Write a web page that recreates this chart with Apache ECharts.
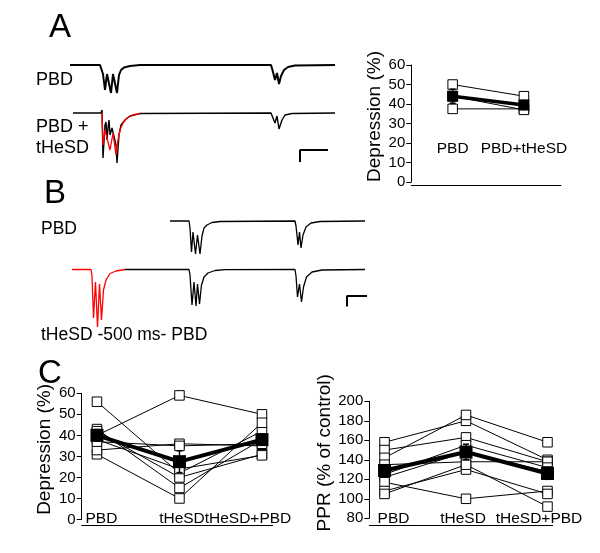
<!DOCTYPE html>
<html><head><meta charset="utf-8">
<script src="https://cdn.jsdelivr.net/npm/echarts@6/dist/echarts.min.js"></script>
<style>html,body{margin:0;padding:0;background:#fff}#c{width:600px;height:553px}</style>
</head><body><div id="c"></div><script>
// ---------- DATA ----------
// Panel A traces: [time (ms), amplitude (a.u., baseline 0)]
const traceA_PBD = [[0,0],[150,0],[160,-0.5],[165,-9],[175,-25],[185,-9],[195,-8],[205,-28],[215,-9],[225,-9],[235,-28],[245,-10],[255,-5],[270,-2.5],[300,-1],[350,0],[1005,0],[1015,-7],[1025,-15],[1035,-8],[1045,-19],[1055,-11],[1070,-5],[1090,-2],[1125,-0.5],[1325,0]];
const traceA_PBDtHeSD = [[15,0],[155,0],[160,3],[165,-45],[175,-12],[180,-9],[185,-27],[190,-15],[195,-7],[200,-22],[210,-15],[220,-17],[230,-32],[235,-50],[245,-22],[255,-12],[275,-7],[300,-3],[350,-0.5],[1005,0],[1015,-5],[1025,-10],[1035,-3],[1045,-16],[1060,-7],[1075,-2],[1110,-0.5],[1325,0]];
const traceA_tHeSD = [[160,0],[165,-32],[175,-17],[185,-15],[200,-37],[215,-20],[230,-42],[240,-27],[250,-17],[265,-10],[285,-5],[315,-2],[350,-0.5]];
const scaleBarA = [[1290,-37],[1150,-37],[1150,-49]];
// Panel B traces
const traceB_PBD = [[490,0],[585,0],[590,-7],[597.5,-31],[605,-11],[617.5,-33],[627.5,-14],[640,-33],[650,-15],[660,-7],[675,-4],[700,-1.5],[740,-0.5],[1115,0],[1120,-5],[1130,-24],[1137.5,-11],[1145,-27],[1155,-14],[1170,-6],[1195,-2],[1240,-0.5],[1465,0]];
const traceB_pairPBD = [[265,0],[585,0],[590,-5.5],[600,-35.5],[610,-12.5],[620,-36.5],[627.5,-14.5],[637.5,-34.5],[647.5,-15.5],[660,-7.5],[680,-3.5],[715,-1],[765,-0.2],[1115,0],[1120,-6.5],[1127.5,-27.5],[1137.5,-14.5],[1147.5,-32.5],[1157.5,-17.5],[1172.5,-7.5],[1200,-2.5],[1250,-0.5],[1465,0]];
const traceB_tHeSD = [[0,0],[95,0],[100,-6.5],[107.5,-48.5],[117.5,-12.5],[127.5,-57.5],[137.5,-14.5],[147.5,-50.5],[157.5,-20.5],[170,-10.5],[190,-4],[220,-1.5],[265,0]];
const scaleBarB = [[1475,-26.5],[1375,-26.5],[1375,-37]];

// Panel A summary (Depression %)
const catA = ['PBD', 'PBD+tHeSD'];
const depA_PBD = [50, 37.5, 44];
const depA_PBDtHeSD = [44, 37.5, 37];
const depA_mean = [44, 39.5];
const depA_sem = [3.6, 2.3];

// Panel C left (Depression %)
const catC = ['PBD', 'tHeSD', 'tHeSD+PBD'];
const depC_PBD = [56, 40, 31, 33, 43, 42, 38, 37];
const depC_tHeSD = [22, 59, 10, 36, 15, 20, 24, 35];
const depC_tHeSD_PBD = [42, 50, 46, 35, 38, 31, 30.5, 36];
const depC_mean = [40, 27.5, 38];
const depC_sem = [2.8, 5.2, 2.6];

// Panel C right (PPR % of control)
const pprC_PBD = [158, 150, 142, 135, 125, 122, 117, 108, 105];
const pprC_tHeSD = [180, 163, 186, 138, 155, 148, 100, 130, 135];
const pprC_tHeSD_PBD = [140, 138, 158, 138, 132, 128, 108, 105, 92];
const pprC_mean = [129, 148, 126];
const pprC_sem = [6, 8, 6];

// ---------- BUILD ----------
const FONT = '"Liberation Sans", Arial, sans-serif';
const grids = [], xAxes = [], yAxes = [], series = [];
function addGrid(g, x, y) {
  grids.push(g); const i = grids.length - 1;
  xAxes.push(Object.assign({gridIndex: i}, x));
  yAxes.push(Object.assign({gridIndex: i}, y));
  return i;
}
function traceGrid(pos, tMax, vMin, vMax) {
  return addGrid(pos, {type: 'value', min: 0, max: tMax, show: false},
                      {type: 'value', min: vMin, max: vMax, show: false});
}
function traceSeries(gi, data, color, width, z) {
  series.push({type: 'line', xAxisIndex: gi, yAxisIndex: gi, data: data, symbol: 'none',
    lineStyle: {color: color, width: width}, silent: true, clip: false, z: z || 2, animation: false});
}
const gA1 = traceGrid({left: 70, top: 55, width: 265, height: 40}, 1325, -30, 10);
const gA2 = traceGrid({left: 70, top: 103, width: 265, height: 60}, 1325, -50, 10);
const gB1 = traceGrid({left: 72, top: 211, width: 300, height: 45}, 1500, -35, 10);
const gB2 = traceGrid({left: 72, top: 259.5, width: 300, height: 70}, 1500, -60, 10);
traceSeries(gA1, traceA_PBD, '#000', 2);
traceSeries(gA2, traceA_PBDtHeSD, '#000', 1.4);
traceSeries(gA2, traceA_tHeSD, '#ff0000', 1.3, 3);
traceSeries(gA2, scaleBarA, '#000', 2);
traceSeries(gB1, traceB_PBD, '#000', 1.3);
traceSeries(gB2, traceB_pairPBD, '#000', 1.3);
traceSeries(gB2, traceB_tHeSD, '#ff0000', 1.3, 3);
traceSeries(gB2, scaleBarB, '#000', 2);

function dotChart(pos, cats, conds, mean, sem, yCfg, xRange, o) {
  const rich = {};
  cats.forEach((c, k) => { rich['c' + k] = {fontSize: 15.5, fontFamily: FONT, color: '#000', padding: o.pads[k]}; });
  const gi = addGrid(pos,
    {type: 'value', min: xRange[0], max: xRange[1], offset: o.xOffset,
     axisLine: {show: true, onZero: false, lineStyle: {color: '#000', width: 1}},
     axisTick: {show: false}, splitLine: {show: false},
     axisLabel: {show: true, customValues: cats.map((c, k) => k),
       formatter: v => { const k = Math.round(v); return '{c' + k + '|' + cats[k] + '}'; },
       rich: rich, margin: o.labelMargin, verticalAlign: 'bottom', color: '#000', fontSize: 15.5, fontFamily: FONT}},
    {type: 'value', min: yCfg.min, max: yCfg.max, interval: yCfg.interval,
     name: yCfg.name, nameLocation: 'middle', nameRotate: 90, nameGap: o.nameGap,
     nameTextStyle: {fontSize: 19, fontFamily: FONT, color: '#000', padding: [0, 0, 0, 14]},
     axisLine: {show: true, onZero: false, lineStyle: {color: '#000', width: 1}},
     axisTick: {show: true, inside: false, length: 5, lineStyle: {color: '#000', width: 1}},
     axisLabel: {color: '#000', fontSize: 15, fontFamily: FONT, margin: 6},
     splitLine: {show: false}});
  const n = conds[0].length;
  for (let s = 0; s < n; s++) {
    series.push({type: 'line', xAxisIndex: gi, yAxisIndex: gi,
      data: conds.map((arr, k) => [k, arr[s]]),
      symbol: 'rect', symbolSize: o.openSize, showSymbol: true,
      itemStyle: {color: '#fff', borderColor: '#000', borderWidth: 1},
      lineStyle: {color: '#000', width: 1}, silent: true, animation: false, z: 2});
  }
  series.push({type: 'custom', xAxisIndex: gi, yAxisIndex: gi, encode: {x: 0, y: 1},
    data: mean.map((m, k) => [k, m, sem[k]]), silent: true, animation: false, z: 4,
    renderItem: (p, api) => {
      const x = api.value(0), m = api.value(1), e = api.value(2);
      const a = api.coord([x, m + e]), b = api.coord([x, m - e]); const w = 3;
      const st = {stroke: '#000', lineWidth: 1.5};
      return {type: 'group', children: [
        {type: 'line', shape: {x1: a[0], y1: a[1], x2: b[0], y2: b[1]}, style: st},
        {type: 'line', shape: {x1: a[0] - w, y1: a[1], x2: a[0] + w, y2: a[1]}, style: st},
        {type: 'line', shape: {x1: b[0] - w, y1: b[1], x2: b[0] + w, y2: b[1]}, style: st}]};
    }});
  series.push({type: 'line', xAxisIndex: gi, yAxisIndex: gi,
    data: mean.map((m, k) => [k, m]), symbol: 'rect', symbolSize: o.meanSize, showSymbol: true,
    itemStyle: {color: '#000'}, lineStyle: {color: '#000', width: o.meanWidth},
    silent: true, animation: false, z: 5});
}

dotChart({left: 411.3, top: 65, width: 149.7, height: 117}, catA,
  [depA_PBD, depA_PBDtHeSD], depA_mean, depA_sem,
  {min: 0, max: 60, interval: 10, name: 'Depression (%)'}, [-0.58, 1.52],
  {xOffset: 3, labelMargin: -28, nameGap: 27, openSize: 9.5, meanSize: 11, meanWidth: 3.5, pads: [0, 0]});
dotChart({left: 81.7, top: 393.3, width: 191, height: 126.2}, catC,
  [depC_PBD, depC_tHeSD, depC_tHeSD_PBD], depC_mean, depC_sem,
  {min: 0, max: 60, interval: 10, name: 'Depression (%)'}, [-0.185, 2.13],
  {xOffset: 5.5, labelMargin: 2, nameGap: 27, openSize: 9.5, meanSize: 13, meanWidth: 4,
   pads: [[0, 0, 0, 9], [0, 0, 0, 5], [0, 28, 0, 0]]});
dotChart({left: 369.3, top: 401.3, width: 183.4, height: 117}, catC,
  [pprC_PBD, pprC_tHeSD, pprC_tHeSD_PBD], pprC_mean, pprC_sem,
  {min: 80, max: 200, interval: 20, name: 'PPR (% of control)'}, [-0.187, 2.064],
  {xOffset: 6.7, labelMargin: 1.3, nameGap: 35, openSize: 9.5, meanSize: 13, meanWidth: 4,
   pads: [[0, 0, 0, 18], [0, 6, 0, 0], [0, 17, 0, 0]]});

function txt(x, y, s, size) {
  return {type: 'text', x: x, y: y, silent: true,
    style: {text: s, fontSize: size, fontFamily: FONT, fill: '#000', align: 'left', verticalAlign: 'middle'}};
}
const option = {
  backgroundColor: '#fff', animation: false,
  grid: grids, xAxis: xAxes, yAxis: yAxes, series: series,
  graphic: [
    txt(49, 28, 'A', 33), txt(44, 194, 'B', 33), txt(38, 374, 'C', 33),
    txt(36, 80, 'PBD', 18), txt(36, 127, 'PBD +', 18), txt(36, 148, 'tHeSD', 18),
    txt(41, 229, 'PBD', 17.5), txt(41, 335, 'tHeSD -500 ms- PBD', 17.5)
  ]
};
const chart = echarts.init(document.getElementById('c'), null, {renderer: 'canvas'});
chart.setOption(option);
</script></body></html>
